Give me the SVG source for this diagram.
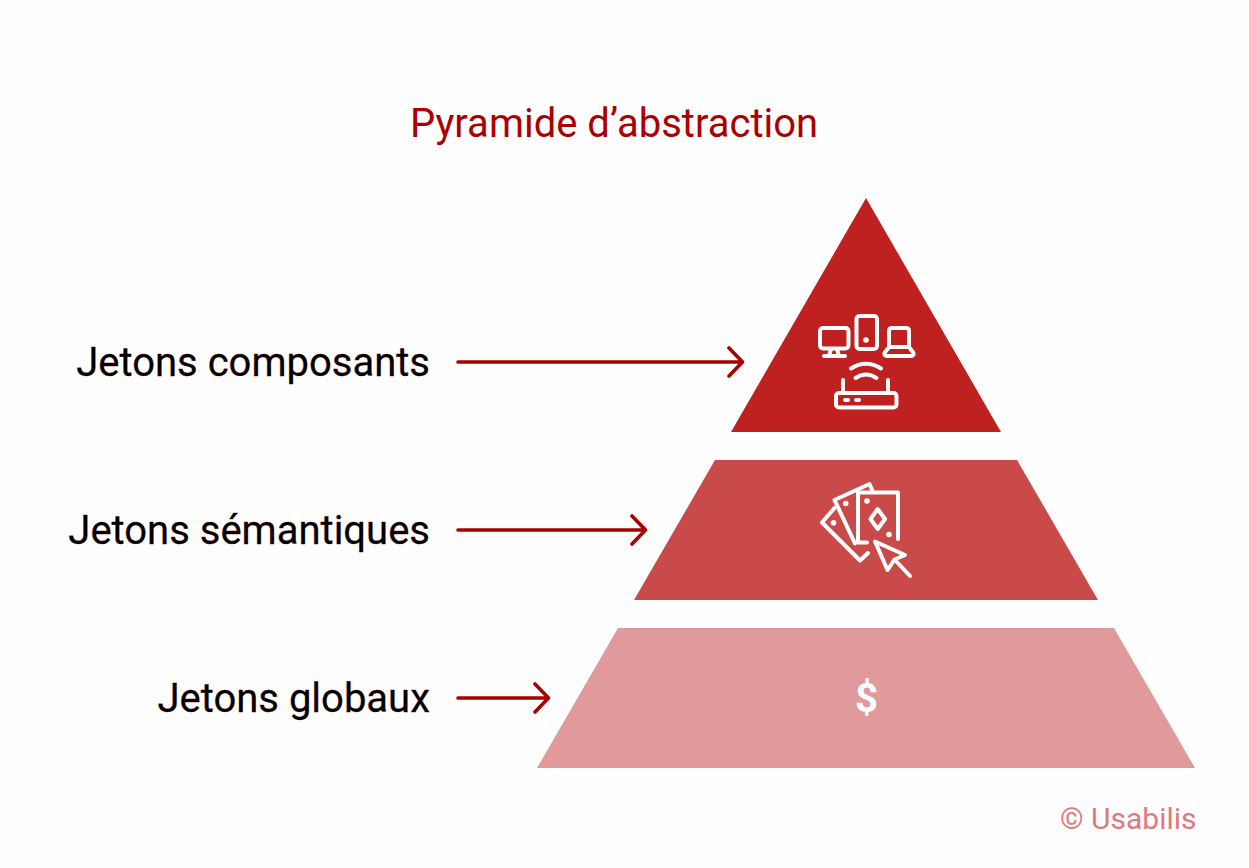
<svg xmlns="http://www.w3.org/2000/svg" width="1249" height="868" viewBox="0 0 1249 868">
<style>
text{font-family:Roboto,"Liberation Sans",sans-serif}
.label{font-size:40px;fill:#000;text-anchor:end;stroke:#a80000;stroke-width:.3px;paint-order:stroke}
.conn{stroke:#ab0000;stroke-width:3.6;fill:none;stroke-linecap:round;stroke-linejoin:round}
.ic{fill:none;stroke:#fff;stroke-width:4;stroke-linecap:round;stroke-linejoin:round}
.dot{fill:#fff}
</style>
<rect width="1249" height="868" fill="#fefefe"/>
<text x="614" y="136.500" font-size="40" fill="#ab0000" text-anchor="middle">Pyramide d’abstraction</text>
<g id="connectors">
<path class="conn" d="M458 362H742.500M729 348L742.500 362L729 376"/>
<path class="conn" d="M458 530H645.500M632 516L645.500 530L632 544"/>
<path class="conn" d="M458 698H548.500M535 684L548.500 698L535 712"/>
</g>
<g id="node-composants">
<text class="label" x="430" y="376">Jetons composants</text>
<polygon points="866,198 1001,432 731,432" fill="#bf2020"/>
<g class="ic">
<rect x="820" y="328" width="28.500" height="20.500" rx="3"/>
<path d="M831 349L829 356M837 349L839 356M824 356H845"/>
<rect x="856.500" y="316" width="20.500" height="33" rx="3"/>
<path d="M889 347V331Q889 328 892 328H906Q909 328 909 331V347M889 347L884.500 353Q884 356 887 356H911Q914 356 913.500 353L909 347Z"/>
<rect x="836" y="393" width="60.500" height="14.500" rx="3"/>
<path d="M843 380V393M888 380V393"/>
<path d="M851 368.500Q866 359 881 368.500M855.500 378Q866 371 876.500 378"/>
<path d="M845 400H848M856 400H859"/>
</g>
<circle class="dot" cx="866" cy="340" r="2.800"/>
</g>
<g id="node-semantiques">
<text class="label" x="430" y="544">Jetons sémantiques</text>
<polygon points="715,460 1017,460 1098,600 634,600" fill="#ca4a4a"/>
<g class="ic">
<path d="M867 542.500H858V492.500H898V539"/>
<path d="M855 543.500L834.500 500L869.500 484L872.500 491"/>
<path d="M834.500 508L822 522.500L860 560.500L868 553"/>
<path d="M877.700 509L885 519L877.700 529L870.500 519Z"/>
<path d="M875 541.500L905 555L894.500 559.500L887.500 570ZM894.500 559.500L910 576"/>
</g>
<circle class="dot" cx="867" cy="501" r="2.800"/>
<circle class="dot" cx="889" cy="534.500" r="2.800"/>
<circle class="dot" cx="845.700" cy="503.500" r="2.800"/>
<circle class="dot" cx="833.500" cy="522.700" r="2.800"/>
</g>
<g id="node-globaux">
<text class="label" x="430" y="712">Jetons globaux</text>
<polygon points="618,628 1114,628 1195,768 537,768" fill="#e09a9c"/>
<text x="866.500" y="711.500" font-size="40" font-weight="700" fill="#ffffff" text-anchor="middle">$</text>
</g>
<text x="1196.500" y="829" font-size="30" fill="#e07a7c" text-anchor="end">© Usabilis</text>
</svg>
